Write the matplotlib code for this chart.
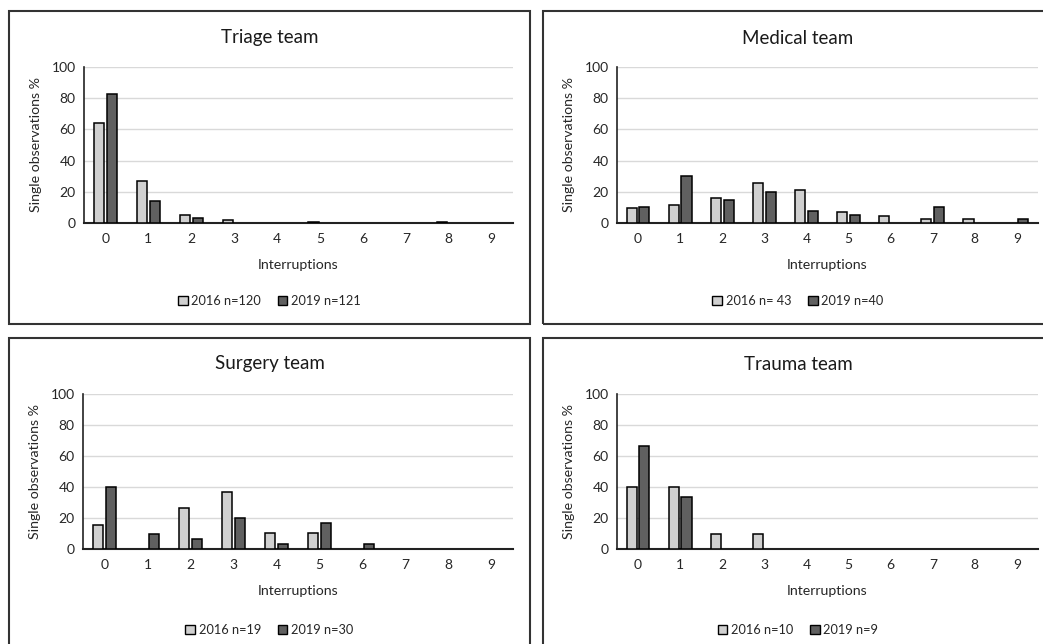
import numpy as np
import matplotlib
matplotlib.use("Agg")
import matplotlib.pyplot as plt
from matplotlib.patches import Rectangle, Patch

plt.rcParams['font.family'] = ['Lato', 'DejaVu Sans']

categories = list(range(10))
tick_labels = [str(c) for c in categories]

titles = ["Triage team", "Medical team", "Surgery team", "Trauma team"]
legend_2016 = ["2016 n=120", "2016 n= 43", "2016 n=19", "2016 n=10"]
legend_2019 = ["2019 n=121", "2019 n=40", "2019 n=30", "2019 n=9"]

triage_2016 = [64.2, 26.7, 5.0, 1.7, 0, 0.8, 0, 0, 0.8, 0]
triage_2019 = [82.6, 14.0, 3.3, 0, 0, 0, 0, 0, 0, 0]
medical_2016 = [9.3, 11.6, 16.3, 25.6, 20.9, 7.0, 4.7, 2.3, 2.3, 0]
medical_2019 = [10.0, 30.0, 15.0, 20.0, 7.5, 5.0, 0, 10.0, 0, 2.5]
surgery_2016 = [15.8, 0, 26.3, 36.8, 10.5, 10.5, 0, 0, 0, 0]
surgery_2019 = [40.0, 10.0, 6.7, 20.0, 3.3, 16.7, 3.3, 0, 0, 0]
trauma_2016 = [40.0, 40.0, 10.0, 10.0, 0, 0, 0, 0, 0, 0]
trauma_2019 = [66.7, 33.3, 0, 0, 0, 0, 0, 0, 0, 0]

series_2016 = [triage_2016, medical_2016, surgery_2016, trauma_2016]
series_2019 = [triage_2019, medical_2019, surgery_2019, trauma_2019]

W, H = 1043, 644
fig = plt.figure(figsize=(W / 100, H / 100), dpi=100)

def fx(x):
    return x / W

def fy(y):
    return 1 - y / H

light = "#d0d0d0"
dark = "#606060"

# panel boxes (pixel coordinates: x0, y0, x1, y1)
boxes = [(9, 11, 530, 324), (543, 11, 1060, 324), (9, 338, 530, 660), (543, 338, 1060, 660)]
# axes areas (left, top, right, bottom)
axes_px = [(84, 67, 513, 223), (617, 67, 1038, 223), (83, 394, 513, 549), (617, 394, 1038, 549)]
title_y = [38, 38, 364, 364]
legend_y = [301, 301, 630, 630]

for i in range(4):
    bx0, by0, bx1, by1 = boxes[i]
    fig.patches.append(Rectangle((fx(bx0), fy(by1)), fx(bx1 - bx0), (by1 - by0) / H,
                                 transform=fig.transFigure, fill=False,
                                 edgecolor="#333333", linewidth=1.5, zorder=0))
    l, t, r, b = axes_px[i]
    ax = fig.add_axes([fx(l), fy(b), fx(r - l), (b - t) / H])
    x = np.array(categories, dtype=float)
    v16 = np.array(series_2016[i], dtype=float)
    v19 = np.array(series_2019[i], dtype=float)
    m16 = v16 > 0
    m19 = v19 > 0
    ax.bar(x[m16] - 0.15, v16[m16], 0.24, color=light, edgecolor="black", linewidth=1.1, zorder=3)
    ax.bar(x[m19] + 0.15, v19[m19], 0.24, color=dark, edgecolor="black", linewidth=1.1, zorder=3)
    ax.set_xlim(-0.5, 9.5)
    ax.set_ylim(0, 100)
    ax.set_yticks([0, 20, 40, 60, 80, 100])
    ax.set_xticks(categories)
    ax.set_xticklabels(tick_labels)
    ax.grid(axis="y", color="#d9d9d9", linewidth=1.0, zorder=0)
    ax.set_axisbelow(True)
    for s in ["top", "right"]:
        ax.spines[s].set_visible(False)
    ax.spines["left"].set_color("#222222")
    ax.spines["left"].set_linewidth(1.2)
    ax.spines["bottom"].set_color("#222222")
    ax.spines["bottom"].set_linewidth(1.5)
    ax.tick_params(length=0, labelsize=10, colors="#262626", pad=7)
    ax.tick_params(axis="y", pad=6)
    ax.set_ylabel("Single observations %", fontsize=10.2, color="#262626", labelpad=7)
    ax.set_xlabel("Interruptions", fontsize=10.2, color="#262626", labelpad=10)
    center_x = (bx0 + min(bx1, 1053)) / 2 if i % 2 else (bx0 + bx1) / 2
    fig.text(fx(center_x), fy(title_y[i]), titles[i], ha="center", va="center",
             fontsize=13.5, color="#1a1a1a")
    handles = [Patch(facecolor=light, edgecolor="black", linewidth=1.0, label=legend_2016[i]),
               Patch(facecolor=dark, edgecolor="black", linewidth=1.0, label=legend_2019[i])]
    fig.legend(handles=handles, loc="center", bbox_to_anchor=(fx(center_x), fy(legend_y[i])),
               ncol=2, frameon=False, fontsize=9.2, handlelength=0.75, handleheight=0.75,
               handletextpad=0.3, columnspacing=1.3, labelcolor="#262626")

fig.savefig("out.png", dpi=100)
